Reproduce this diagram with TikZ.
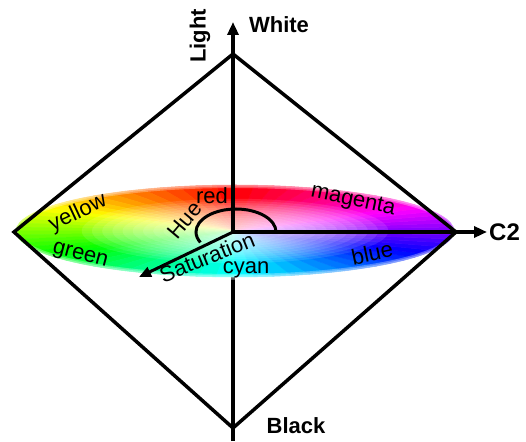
\PassOptionsToPackage{rgb}{xcolor}
\documentclass[tikz,border=0pt]{standalone}
\usepackage{fontspec}
\setmainfont{Liberation Sans}
\usetikzlibrary{arrows.meta,calc}
\begin{document}
\begin{tikzpicture}[x=1pt,y=1pt,
  axisline/.style={line width=3.5pt},
  tip/.style={-{Triangle[length=13pt,width=11pt]}},
  biglabel/.style={font=\fontsize{22}{22}\bfseries\selectfont, inner sep=0pt},
  colorlabel/.style={font=\fontsize{22}{22}\selectfont, inner sep=0pt}]
\useasboundingbox (0,0) rectangle (526,441);
% coordinates
\coordinate (C) at (233,209);
\coordinate (E) at (235,210);
\coordinate (T) at (233,387);
\coordinate (B) at (233,13);
\coordinate (L) at (14,209);
\coordinate (R) at (456,209);
\coordinate (axbot) at (233,0);
\coordinate (axtop) at (233,419);
\coordinate (axright) at (487,209);
\coordinate (sat) at (139,164);
\coordinate (hueA) at (276,209);
% vertical axis behind the disc
\draw[axisline] (axbot) -- (C);
% colour disc
\foreach \i in {0,...,71}{
  \pgfmathtruncatemacro\a{5*\i}
  \pgfmathtruncatemacro\b{5*\i+5}
  \pgfmathtruncatemacro\h{mod(5*\i+2-90+360,360)}
  \definecolor{wch}{Hsb}{\h,1,1}
  \colorlet{wc}[rgb]{wch}
  \fill[wc, draw=wc, line width=0.5pt] (E) -- +({219*cos(\a)},{46*sin(\a)})
     arc[start angle=\a, end angle=\b, x radius=219, y radius=46] -- cycle;
}
\foreach \k in {1,...,15}{
  \fill[white, opacity=0.11] (E) ellipse[x radius={0.7*219*\k/15}, y radius={0.7*46*\k/15}];
}
\foreach \w in {6,3}{
  \draw[white, opacity=0.3, line width=\w pt] (E) ellipse[x radius=220, y radius=46];
}
% diamond
\draw[axisline, line join=miter] (T) -- (R) -- (B) -- (L) -- cycle;
% axes
\draw[axisline, tip] (C) -- (axtop);
\draw[axisline, tip] (C) -- (axright);
% saturation and hue
\draw[line width=3pt, -{Triangle[length=12pt,width=10pt]}] (C) -- (sat);
\draw[line width=3pt] (hueA) arc[start angle=0, end angle=207, x radius=40, y radius=23];
% labels
\node[biglabel] (white) at (279,416) {White};
\node[biglabel] (black) at (296,15) {Black};
\node[biglabel, anchor=west, font=\fontsize{24}{24}\bfseries\selectfont] (c2) at (489,209) {C2};
\node[biglabel, rotate=90] (light) at (200,405) {Light};
\node[colorlabel, rotate=25] (yellow) at (78,228) {yellow};
\node[colorlabel, rotate=-15] (green) at (80,185) {green};
\node[colorlabel] (red) at (212,245) {red};
\node[colorlabel, rotate=50] (hue) at (185,221) {Hue};
\node[colorlabel, rotate=22] (saturation) at (207,184) {Saturation};
\node[colorlabel] (cyan) at (246,171) {cyan};
\node[colorlabel, rotate=-12] (magenta) at (353,240) {magenta};
\node[colorlabel, rotate=12] (blue) at (372,188) {blue};
\end{tikzpicture}
\end{document}
